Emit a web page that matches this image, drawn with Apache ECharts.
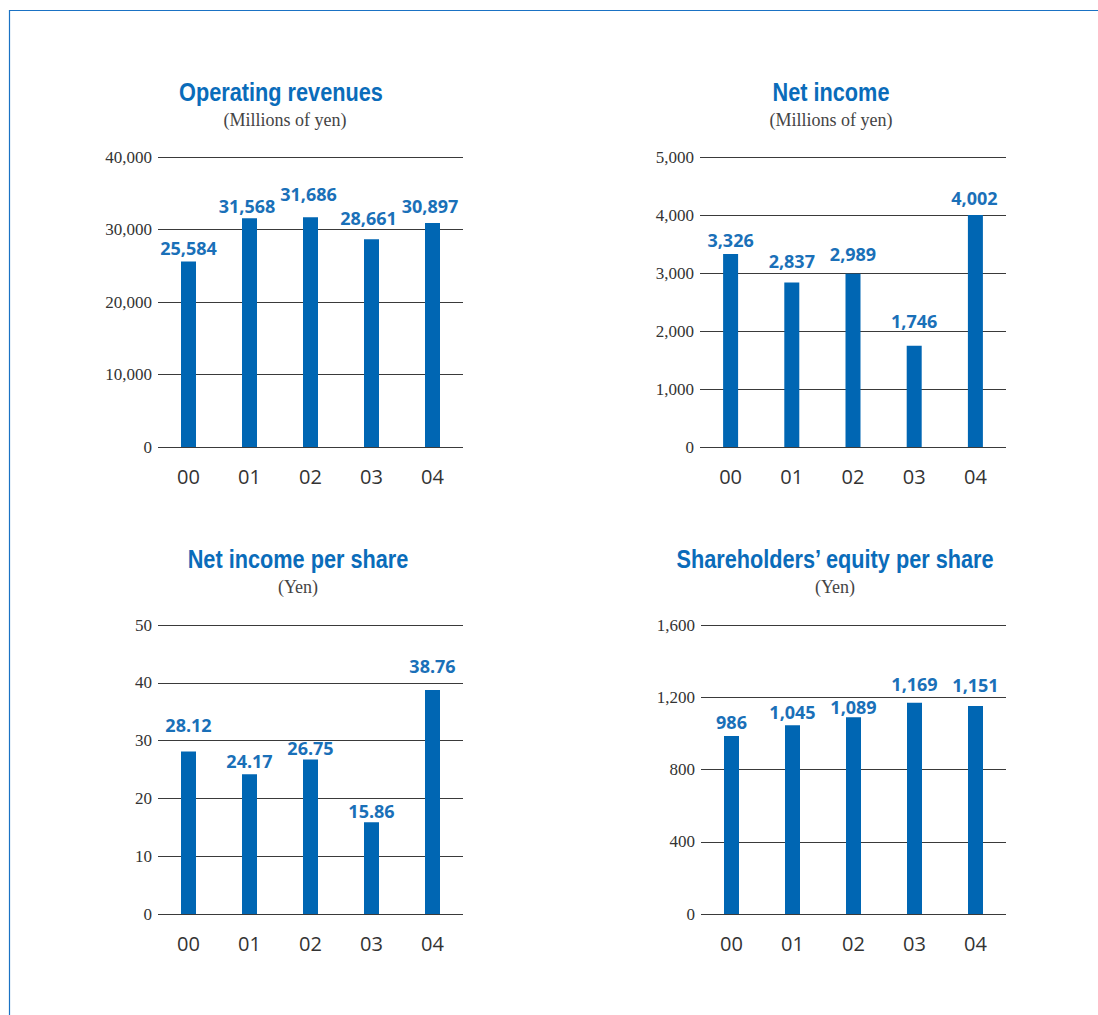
<!DOCTYPE html>
<html>
<head>
<meta charset="utf-8">
<script src="https://cdn.jsdelivr.net/npm/echarts@6/dist/echarts.min.js"></script>
<style>
html,body{margin:0;padding:0;background:#fff;}
#chart{width:1098px;height:1015px;}
</style>
</head>
<body>
<div id="chart"></div>
<script>
// ---- data ----
var categories = ['00', '01', '02', '03', '04'];
var operatingRevenues = [25584, 31568, 31686, 28661, 30897];
var netIncome = [3326, 2837, 2989, 1746, 4002];
var netIncomePerShare = [28.12, 24.17, 26.75, 15.86, 38.76];
var equityPerShare = [986, 1045, 1089, 1169, 1151];

var chartTitles = ['Operating revenues', 'Net income', 'Net income per share', 'Shareholders\u2019 equity per share'];
var chartUnits = ['(Millions of yen)', '(Millions of yen)', '(Yen)', '(Yen)'];
var axisMax = [40000, 5000, 50, 1600];
var axisInterval = [10000, 1000, 10, 400];
var labelDecimals = [0, 0, 2, 0];

// ---- layout / style ----
var BLUE = '#0066b3';
var LABEL_BLUE = '#1a70b8';
var TITLE_BLUE = '#0a6cba';
var GRID_COLOR = '#3a3a3a';
var TEXT_COLOR = '#333333';
var grids = [
  {left: 158, top: 157, width: 305, height: 290},
  {left: 700, top: 157, width: 306, height: 290},
  {left: 158, top: 625, width: 305, height: 289},
  {left: 701, top: 625, width: 305, height: 289}
];
var titlePos = [
  {x: 281, y: 92, sx: 285, sy: 120},
  {x: 831, y: 92, sx: 831, sy: 120},
  {x: 298, y: 559, sx: 298, sy: 587},
  {x: 835, y: 559, sx: 835, sy: 587}
];
// per-bar value label gap above the bar (px) and horizontal nudge (px)
var labelGap = [
  [5, 3, 14, 12.5, 8],
  [5.5, 12.5, 11, 16, 8],
  [17.5, 4, 2, 2, 15],
  [5, 4.5, 1.5, 9.5, 12.5]
];
var labelShiftX = [
  [0, -2.5, -2, -3, -2.5],
  [0, 0, 0, 0, -1],
  [0, 0, 0, 0, 0],
  [0, 0, 0, 0, 0]
];
var seriesData = [operatingRevenues, netIncome, netIncomePerShare, equityPerShare];

function fmt(v, d) {
  return Number(v).toLocaleString('en-US', {minimumFractionDigits: d, maximumFractionDigits: d});
}

var option = {
  animation: false,
  backgroundColor: '#ffffff',
  grid: grids.map(function (g) { return Object.assign({containLabel: false}, g); }),
  xAxis: grids.map(function (g, i) {
    return {
      type: 'category', gridIndex: i, data: categories,
      axisLine: {show: false}, axisTick: {show: false},
      axisLabel: {color: TEXT_COLOR, fontFamily: 'Open Sans', fontSize: 20, margin: 19, lineHeight: 20}
    };
  }),
  yAxis: grids.map(function (g, i) {
    return {
      type: 'value', gridIndex: i, min: 0, max: axisMax[i], interval: axisInterval[i],
      axisLine: {show: false}, axisTick: {show: false},
      splitLine: {show: true, lineStyle: {color: GRID_COLOR, width: 1}},
      axisLabel: {
        color: TEXT_COLOR, fontFamily: 'Liberation Serif', fontSize: 17, margin: 6,
        formatter: function (v) { return fmt(v, 0); }
      }
    };
  }),
  series: seriesData.map(function (d, i) {
    return {
      type: 'bar', xAxisIndex: i, yAxisIndex: i, barWidth: 15,
      data: d.map(function (v, j) {
        return {value: v, label: {distance: labelGap[i][j], offset: [labelShiftX[i][j], 0]}};
      }),
      itemStyle: {color: BLUE},
      label: {
        show: true, position: 'top',
        color: LABEL_BLUE, fontFamily: 'Open Sans', fontWeight: 'bold', fontSize: 18,
        formatter: (function (dec) { return function (p) { return fmt(p.value, dec); }; })(labelDecimals[i])
      }
    };
  }),
  graphic: []
};

// frame lines
option.graphic.push({type: 'line', shape: {x1: 9, y1: 10.5, x2: 1098, y2: 10.5}, style: {stroke: '#1a72c4', lineWidth: 1.2}});
option.graphic.push({type: 'line', shape: {x1: 9.5, y1: 10, x2: 9.5, y2: 1015}, style: {stroke: '#1a72c4', lineWidth: 1.2}});

// titles
titlePos.forEach(function (p, i) {
  option.graphic.push({
    type: 'text', x: p.x, y: p.y, scaleX: 0.835, scaleY: 1,
    style: {
      text: chartTitles[i], textAlign: 'center', textVerticalAlign: 'middle',
      fill: TITLE_BLUE, font: 'bold 26px "Liberation Sans", Arial, sans-serif'
    }
  });
  option.graphic.push({
    type: 'text', x: p.sx, y: p.sy,
    style: {
      text: chartUnits[i], textAlign: 'center', textVerticalAlign: 'middle',
      fill: '#444444', font: '18px "Liberation Serif", serif'
    }
  });
});

var chart = echarts.init(document.getElementById('chart'), null, {renderer: 'svg'});
chart.setOption(option);
</script>
</body>
</html>
